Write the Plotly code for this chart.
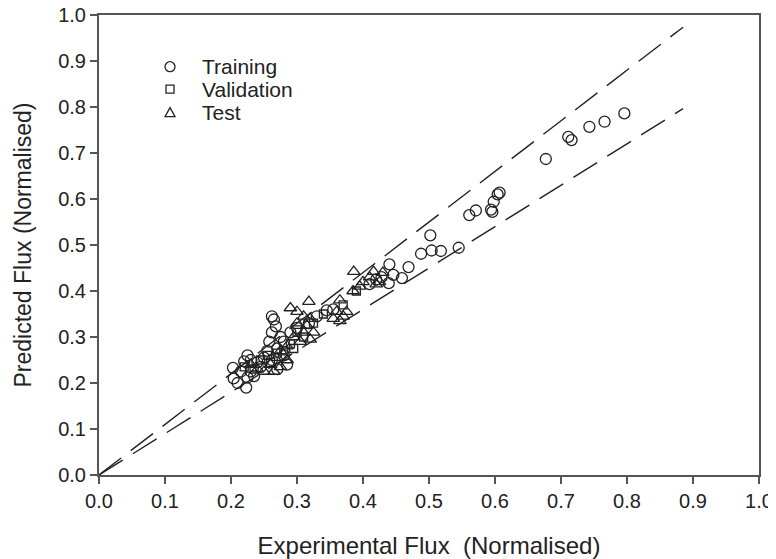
import plotly.graph_objects as go

# ---- data ----
train_x = [0.796, 0.766, 0.743, 0.716, 0.711, 0.677,
           0.607, 0.604, 0.598, 0.594, 0.596, 0.571, 0.561,
           0.545, 0.518, 0.504, 0.502, 0.488, 0.469, 0.459, 0.446, 0.440, 0.439, 0.428, 0.420, 0.410,
           0.345, 0.355, 0.330, 0.318, 0.300, 0.290, 0.280, 0.275,
           0.262, 0.265, 0.268, 0.262, 0.258, 0.270, 0.255, 0.250, 0.262, 0.280, 0.285, 0.270, 0.245, 0.240, 0.230, 0.225,
           0.203, 0.220, 0.225, 0.223, 0.204, 0.210, 0.215, 0.230, 0.235]
train_y = [0.786, 0.768, 0.757, 0.728, 0.735, 0.687,
           0.614, 0.610, 0.594, 0.577, 0.572, 0.575, 0.565,
           0.494, 0.487, 0.488, 0.521, 0.481, 0.452, 0.428, 0.435, 0.458, 0.417, 0.430, 0.425, 0.415,
           0.358, 0.360, 0.345, 0.330, 0.320, 0.310, 0.290, 0.300,
           0.345, 0.338, 0.323, 0.310, 0.290, 0.275, 0.270, 0.255, 0.250, 0.260, 0.240, 0.230, 0.235, 0.245, 0.250, 0.260,
           0.233, 0.247, 0.212, 0.190, 0.210, 0.200, 0.225, 0.225, 0.215]

valid_x = [0.255, 0.260, 0.245, 0.280, 0.290, 0.310, 0.300, 0.325, 0.235, 0.270, 0.220, 0.340, 0.370, 0.390, 0.295]
valid_y = [0.260, 0.245, 0.250, 0.270, 0.285, 0.300, 0.310, 0.330, 0.230, 0.265, 0.235, 0.350, 0.370, 0.400, 0.275]

test_x = [0.386, 0.416, 0.410, 0.400, 0.420, 0.395, 0.385, 0.430, 0.425,
          0.365, 0.360, 0.370, 0.355, 0.365, 0.375,
          0.318, 0.290, 0.300, 0.310, 0.320, 0.315, 0.300, 0.310, 0.325, 0.320, 0.295, 0.305, 0.285,
          0.275, 0.270, 0.285, 0.260, 0.275, 0.250, 0.240, 0.230, 0.265]
test_y = [0.442, 0.442, 0.430, 0.420, 0.415, 0.410, 0.400, 0.440, 0.420,
          0.380, 0.355, 0.345, 0.340, 0.335, 0.355,
          0.377, 0.363, 0.355, 0.345, 0.340, 0.325, 0.330, 0.310, 0.310, 0.295, 0.300, 0.290, 0.280,
          0.270, 0.255, 0.250, 0.240, 0.235, 0.225, 0.230, 0.240, 0.225]

band_x = [0.0, 0.885]
upper_factor = 1.1
lower_factor = 0.9

ticks = [0.0, 0.1, 0.2, 0.3, 0.4, 0.5, 0.6, 0.7, 0.8, 0.9, 1.0]
tick_text = ["%.1f" % t for t in ticks]

legend_names = ["Training", "Validation", "Test"]

# ---- figure ----
FONT = "Liberation Sans, Arial, sans-serif"
INK = "#222"
fig = go.Figure()
dash = "28px,12px"
fig.add_trace(go.Scatter(x=band_x, y=[v * upper_factor for v in band_x], mode="lines",
                         line=dict(color=INK, width=1.4, dash=dash), showlegend=False))
fig.add_trace(go.Scatter(x=band_x, y=[v * lower_factor for v in band_x], mode="lines",
                         line=dict(color=INK, width=1.4, dash=dash), showlegend=False))

fig.add_trace(go.Scatter(x=train_x, y=train_y, mode="markers", name=legend_names[0],
                         marker=dict(symbol="circle-open", size=11, color=INK,
                                     line=dict(width=1.3, color=INK))))
fig.add_trace(go.Scatter(x=valid_x, y=valid_y, mode="markers", name=legend_names[1],
                         marker=dict(symbol="square-open", size=8, color=INK,
                                     line=dict(width=1.3, color=INK))))
fig.add_trace(go.Scatter(x=test_x, y=test_y, mode="markers", name=legend_names[2],
                         marker=dict(symbol="triangle-up-open", size=11, color=INK,
                                     line=dict(width=1.3, color=INK))))

axis_common = dict(
    range=[0, 1], tickvals=ticks, ticktext=tick_text,
    showgrid=False, zeroline=False, automargin=False,
    showline=True, linecolor="#555", linewidth=2, mirror=True,
    ticks="outside", ticklen=7, tickcolor="#555", tickwidth=1.5,
    ticklabeloverflow="allow",
    tickfont=dict(family=FONT, size=20, color=INK),
)

# hand-drawn legend (symbols as shapes, names as annotations)
sym_x = 0.1076
row_y = [0.8876, 0.839, 0.7876]
text_x = 0.153
shapes = [
    dict(type="circle", xref="paper", yref="paper", xsizemode="pixel", ysizemode="pixel",
         xanchor=sym_x, yanchor=row_y[0], x0=-5, x1=5, y0=-5, y1=5,
         line=dict(color=INK, width=1.3)),
    dict(type="rect", xref="paper", yref="paper", xsizemode="pixel", ysizemode="pixel",
         xanchor=sym_x, yanchor=row_y[1], x0=-4, x1=4, y0=-4, y1=4,
         line=dict(color=INK, width=1.3)),
    dict(type="path", xref="paper", yref="paper", xsizemode="pixel", ysizemode="pixel",
         xanchor=sym_x, yanchor=row_y[2], path="M-5,-4 L5,-4 L0,5 Z",
         line=dict(color=INK, width=1.3)),
]
annotations = [
    dict(text=name, xref="paper", yref="paper", x=text_x, y=yy, xanchor="left", yanchor="middle",
         showarrow=False, font=dict(family=FONT, size=21, color=INK))
    for name, yy in zip(legend_names, row_y)
]

# the page body adds an 8px offset, so the figure is 8px smaller than the window
fig.update_layout(
    width=768, height=551,
    margin=dict(l=91, r=17, t=7, b=84),
    paper_bgcolor="white", plot_bgcolor="white",
    font=dict(family=FONT, color=INK),
    showlegend=False,
    shapes=shapes, annotations=annotations,
    xaxis=dict(axis_common, title=dict(text="Experimental Flux\u00a0 (Normalised)",
                                       font=dict(size=24), standoff=26)),
    yaxis=dict(axis_common, title=dict(text="Predicted Flux (Normalised)",
                                       font=dict(size=23), standoff=20)),
)

fig.write_html("out.html")
